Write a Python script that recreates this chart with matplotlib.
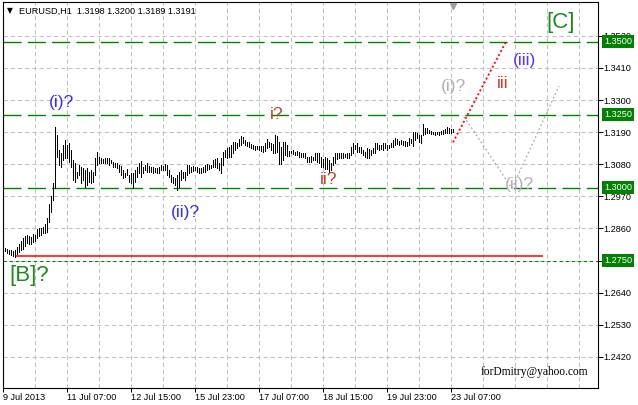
import numpy as np
import matplotlib
matplotlib.use('Agg')
import matplotlib.pyplot as plt
from matplotlib import transforms

plt.rcParams['lines.scale_dashes'] = False
plt.rcParams['font.family'] = ['Liberation Sans', 'DejaVu Sans']

# EURUSD H1 bars (high / low)
highs = [1.2793, 1.2789, 1.2786, 1.2786, 1.2783, 1.2786, 1.2796, 1.2807, 1.2817, 1.2827,
         1.2834, 1.2837, 1.2834, 1.2831, 1.2841, 1.2837, 1.2858, 1.2861, 1.2861, 1.2865,
         1.2875, 1.2896, 1.2944, 1.2971, 1.3016, 1.3207, 1.3180, 1.3129, 1.3118, 1.3146,
         1.3163, 1.3146, 1.3153, 1.3129, 1.3094, 1.3084,
         1.3053, 1.3077, 1.3070, 1.3067, 1.3060, 1.3067, 1.3053, 1.3060, 1.3053, 1.3101,
         1.3122, 1.3105, 1.3101, 1.3098, 1.3101, 1.3101, 1.3101, 1.3094, 1.3088, 1.3084,
         1.3084, 1.3077, 1.3074, 1.3060, 1.3050, 1.3064, 1.3043, 1.3050, 1.3050, 1.3060,
         1.3070, 1.3084, 1.3091, 1.3070, 1.3077, 1.3084, 1.3074, 1.3070, 1.3070, 1.3067,
         1.3067, 1.3070, 1.3077, 1.3074, 1.3081, 1.3077, 1.3060, 1.3043, 1.3036, 1.3033,
         1.3043, 1.3053, 1.3060, 1.3053, 1.3053, 1.3077, 1.3077, 1.3070, 1.3074, 1.3070,
         1.3070, 1.3067, 1.3067, 1.3070, 1.3077, 1.3081, 1.3077, 1.3077, 1.3094, 1.3098,
         1.3101, 1.3084, 1.3101, 1.3122, 1.3129, 1.3136, 1.3139, 1.3146, 1.3156, 1.3156,
         1.3153, 1.3166, 1.3177, 1.3173, 1.3163, 1.3156, 1.3156, 1.3149, 1.3146, 1.3142,
         1.3142, 1.3142, 1.3142, 1.3142, 1.3153, 1.3166, 1.3156, 1.3153, 1.3149, 1.3180,
         1.3177, 1.3156, 1.3139, 1.3156, 1.3156, 1.3146, 1.3125, 1.3125, 1.3129, 1.3122,
         1.3125, 1.3122, 1.3118, 1.3118, 1.3118, 1.3105, 1.3105, 1.3108, 1.3105, 1.3118,
         1.3118, 1.3118, 1.3105, 1.3098, 1.3105, 1.3101, 1.3094, 1.3084, 1.3105, 1.3118,
         1.3118, 1.3118, 1.3118, 1.3118, 1.3115, 1.3118, 1.3118, 1.3139, 1.3153, 1.3146,
         1.3153, 1.3139, 1.3139, 1.3129, 1.3122, 1.3136, 1.3132, 1.3129, 1.3136, 1.3153,
         1.3153, 1.3146, 1.3146, 1.3153, 1.3153, 1.3146, 1.3146, 1.3153, 1.3163, 1.3170,
         1.3166, 1.3159, 1.3163, 1.3159, 1.3159, 1.3156, 1.3170, 1.3166, 1.3190, 1.3190,
         1.3187, 1.3180, 1.3180, 1.3218, 1.3204, 1.3204, 1.3197, 1.3194, 1.3190, 1.3190,
         1.3190, 1.3190, 1.3194, 1.3197, 1.3201, 1.3207, 1.3204, 1.3201, 1.3200]
lows = [1.2783, 1.2776, 1.2772, 1.2769, 1.2765, 1.2762, 1.2772, 1.2779, 1.2786, 1.2789,
        1.2800, 1.2810, 1.2807, 1.2807, 1.2813, 1.2817, 1.2827, 1.2834, 1.2837, 1.2844,
        1.2844, 1.2848, 1.2882, 1.2916, 1.2957, 1.2998, 1.3105, 1.3077, 1.3070, 1.3094,
        1.3101, 1.3101, 1.3088, 1.3070, 1.3026, 1.3019,
        1.3033, 1.3043, 1.3016, 1.3026, 1.3002, 1.3009, 1.3019, 1.3016, 1.3019, 1.3043,
        1.3077, 1.3084, 1.3084, 1.3084, 1.3084, 1.3084, 1.3077, 1.3084, 1.3070, 1.3070,
        1.3067, 1.3053, 1.3043, 1.3033, 1.3036, 1.3043, 1.3019, 1.3016, 1.2998, 1.3019,
        1.3036, 1.3050, 1.3036, 1.3050, 1.3060, 1.3053, 1.3053, 1.3053, 1.3050, 1.3053,
        1.3050, 1.3050, 1.3060, 1.3060, 1.3060, 1.3043, 1.3036, 1.3019, 1.3016, 1.3009,
        1.2992, 1.3002, 1.3026, 1.3033, 1.3026, 1.3043, 1.3050, 1.3053, 1.3057, 1.3060,
        1.3053, 1.3050, 1.3050, 1.3053, 1.3053, 1.3060, 1.3064, 1.3067, 1.3070, 1.3070,
        1.3067, 1.3060, 1.3050, 1.3077, 1.3105, 1.3101, 1.3105, 1.3105, 1.3118, 1.3129,
        1.3136, 1.3142, 1.3146, 1.3153, 1.3146, 1.3142, 1.3139, 1.3136, 1.3132, 1.3129,
        1.3132, 1.3129, 1.3125, 1.3122, 1.3125, 1.3136, 1.3139, 1.3129, 1.3118, 1.3118,
        1.3122, 1.3081, 1.3081, 1.3094, 1.3112, 1.3108, 1.3108, 1.3118, 1.3115, 1.3112,
        1.3112, 1.3105, 1.3105, 1.3105, 1.3101, 1.3088, 1.3088, 1.3088, 1.3094, 1.3094,
        1.3088, 1.3084, 1.3070, 1.3070, 1.3064, 1.3064, 1.3053, 1.3060, 1.3077, 1.3084,
        1.3098, 1.3101, 1.3101, 1.3101, 1.3105, 1.3101, 1.3101, 1.3112, 1.3118, 1.3132,
        1.3122, 1.3122, 1.3118, 1.3112, 1.3105, 1.3101, 1.3101, 1.3112, 1.3118, 1.3118,
        1.3132, 1.3129, 1.3132, 1.3129, 1.3136, 1.3129, 1.3136, 1.3139, 1.3139, 1.3146,
        1.3149, 1.3146, 1.3149, 1.3146, 1.3142, 1.3142, 1.3146, 1.3153, 1.3142, 1.3163,
        1.3170, 1.3156, 1.3153, 1.3180, 1.3183, 1.3187, 1.3187, 1.3183, 1.3183, 1.3180,
        1.3183, 1.3180, 1.3183, 1.3183, 1.3187, 1.3187, 1.3187, 1.3187, 1.3189]

time_ticks = [-1, 31, 63, 95, 127, 159, 191, 223]
time_labels = ['9 Jul 2013', '11 Jul 07:00', '12 Jul 15:00', '15 Jul 23:00',
               '17 Jul 07:00', '18 Jul 15:00', '19 Jul 23:00', '23 Jul 07:00']
price_ticks = [1.3520, 1.3410, 1.3300, 1.3190, 1.3080, 1.2970,
               1.2860, 1.2750, 1.2640, 1.2530, 1.2420]

levels = [1.3500, 1.3250, 1.3000]
level_dotted = 1.2750
support = 1.2765
support_from, support_to = 5, 269

red_x = [224, 250.5]
red_y = [1.3155, 1.3500]
gray_x = [229.5, 253.5, 277]
gray_y = [1.3243, 1.2997, 1.3348]

# wave labels: text, bar, price, colour, size
waves = [
    ('[B]?', 12, 1.2700, '#1f8a1f', 16),
    ('(i)?', 28, 1.3293, '#3030ff', 12.5),
    ('(ii)?', 90, 1.2916, '#3030ff', 12.5),
    ('i?', 136, 1.3249, '#c0452c', 12.5),
    ('ii?', 162, 1.3026, '#c0452c', 12.5),
    ('(i)?', 224.5, 1.3348, '#b0b0b0', 12.5),
    ('iii', 249, 1.3358, '#c0452c', 12.5),
    ('(iii)', 260, 1.3437, '#5a30ff', 12.5),
    ('[C]', 278, 1.3565, '#1f8a1f', 16),
    ('(ii)?', 257, 1.3009, '#b0b0b0', 12.5),
]

header = 'EURUSD,H1  1.3198 1.3200 1.3189 1.3191'

W, H = 638, 405
fig = plt.figure(figsize=(W / 100, H / 100), dpi=100)
ax = fig.add_axes([3 / W, 17 / H, 595 / W, 386 / H])
ax.set_xlim(-1, 296.5)
ax.set_ylim(1.2313, 1.3636)

# grid
for p in price_ticks:
    ax.axhline(p, color='#c0c0c0', lw=0.75, dashes=(3, 2.2), zorder=0)
for g in np.arange(-1, 297, 16):
    ax.axvline(g, color='#c0c0c0', lw=0.75, dashes=(3, 2.2), zorder=0)

# levels
for lv in levels:
    ax.axhline(lv, color='#008000', lw=1.0, dashes=(13, 4.5), zorder=2)
ax.axhline(level_dotted, color='#008000', lw=0.8, dashes=(2.2, 2.2), zorder=2)
ax.hlines(support, support_from, support_to, color='red', lw=1.1, zorder=2)

# bars
idx = np.arange(len(highs))
ax.vlines(idx, lows, highs, colors='black', lw=0.72, antialiased=False, zorder=3)

# projections
ax.plot(red_x, red_y, color='#ff0000', lw=1.3, dashes=(1.4, 1.8), zorder=3)
ax.plot(gray_x, gray_y, color='#a8a8a8', lw=0.9, dashes=(1.3, 1.8), zorder=3)

for txt, x, y, c, s in waves:
    ax.text(x, y, txt, color=c, fontsize=s, ha='center', va='center', zorder=5)

# axes styling
for sp in ax.spines.values():
    sp.set_color('black')
    sp.set_linewidth(0.8)
ax.yaxis.tick_right()
ax.set_yticks(price_ticks)
ax.set_yticklabels(['%.4f' % p for p in price_ticks])
ax.tick_params(axis='y', direction='out', length=3.6, width=0.75, pad=0.5,
               labelsize=6.6)
ax.set_xticks(time_ticks)
ax.set_xticklabels(time_labels, ha='left')
ax.tick_params(axis='x', direction='out', length=3, width=0.75, pad=0.5,
               labelsize=6.6)

for lv in levels + [level_dotted]:
    ax.annotate('%.4f' % lv, xy=(1, lv), xycoords=('axes fraction', 'data'),
                xytext=(4.3, 0), textcoords='offset points', ha='left', va='center',
                fontsize=6.6, color='white', annotation_clip=False, zorder=10,
                bbox=dict(boxstyle='square,pad=0.2', fc='#008000', ec='none'))

ax.annotate('forDmitry@yahoo.com', xy=(1, 0), xycoords='axes fraction',
            xytext=(-7, 11.5), textcoords='offset points', ha='right', va='center',
            fontsize=8.3, family='Liberation Serif', color='black')

# shift marker at top
trans = transforms.blended_transform_factory(ax.transData, ax.transAxes)
ax.plot([idx[-1]], [0.989], marker='v', color='#a0a0a0', ms=5, transform=trans,
        clip_on=False, zorder=6)

fig.text(10 / W, 1 - 10.5 / H, '\u25bc', fontsize=5.5, family='DejaVu Sans',
         ha='center', va='center')
fig.text(19 / W, 1 - 11 / H, header, fontsize=6.6, va='center')

fig.savefig('out.png', dpi=100)
